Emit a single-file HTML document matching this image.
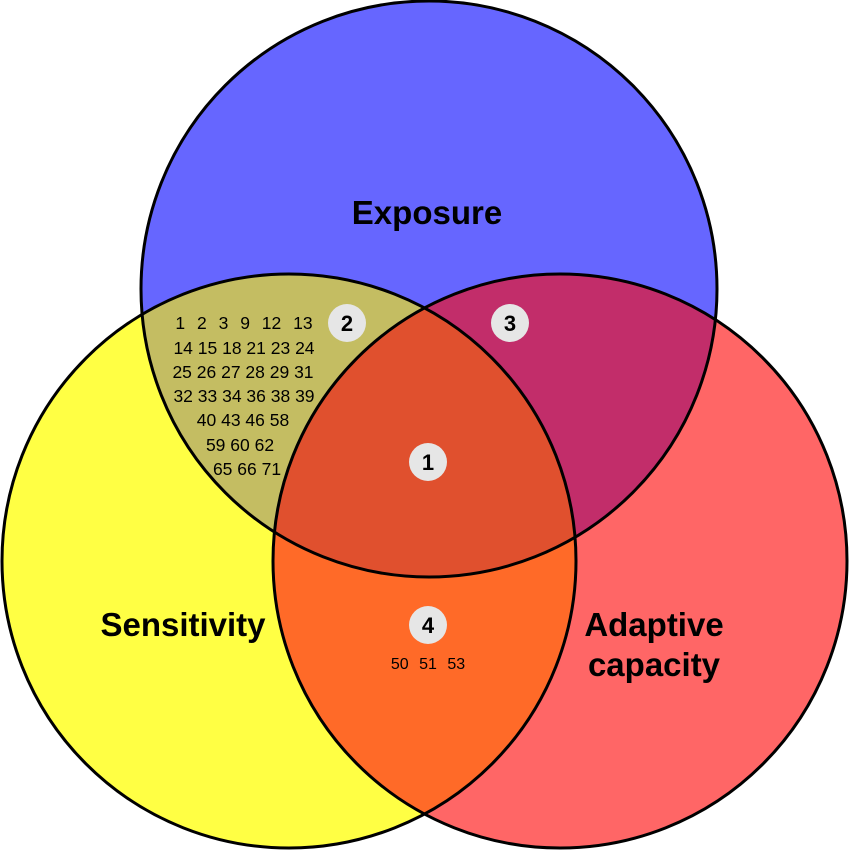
<html><body style="margin:0;background:#fff">
<svg width="849" height="850" xmlns="http://www.w3.org/2000/svg" style="display:block">
<defs>
<clipPath id="cT"><circle cx="429" cy="289" r="288"/></clipPath>
<clipPath id="cL"><circle cx="289" cy="561" r="287"/></clipPath>
<clipPath id="cR"><circle cx="560" cy="561" r="287"/></clipPath>
</defs>
<circle cx="429" cy="289" r="288" fill="#6666ff"/>
<circle cx="289" cy="561" r="287" fill="#ffff44"/>
<circle cx="560" cy="561" r="287" fill="#ff6666"/>
<circle cx="429" cy="289" r="288" fill="#c4bd62" clip-path="url(#cL)"/>
<circle cx="429" cy="289" r="288" fill="#c22d6a" clip-path="url(#cR)"/>
<circle cx="289" cy="561" r="287" fill="#ff6a28" clip-path="url(#cR)"/>
<g clip-path="url(#cT)"><circle cx="289" cy="561" r="287" fill="#e0502e" clip-path="url(#cR)"/></g>
<g fill="none" stroke="#000" stroke-width="3">
<circle cx="429" cy="289" r="288"/>
<circle cx="289" cy="561" r="287"/>
<circle cx="560" cy="561" r="287"/>
</g>
<g font-family="Liberation Sans, sans-serif" font-weight="bold" font-size="33" text-anchor="middle" fill="#000">
<text x="427" y="224">Exposure</text>
<text x="183" y="636">Sensitivity</text>
<text x="654" y="636">Adaptive</text>
<text x="654" y="676">capacity</text>
</g>
<g fill="#e6e6e6">
<circle cx="347" cy="323" r="19"/><circle cx="510" cy="323" r="19"/>
<circle cx="428" cy="462" r="19"/><circle cx="428" cy="625" r="19"/>
</g>
<g font-family="Liberation Sans, sans-serif" font-weight="bold" font-size="22" text-anchor="middle">
<text x="347" y="331">2</text><text x="510" y="331">3</text>
<text x="428" y="470">1</text><text x="428" y="633">4</text>
</g>
<g font-family="Liberation Sans, sans-serif" font-size="17.5" text-anchor="middle" fill="#000">
<text x="244" y="329" word-spacing="7">1 2 3 9 12 13</text>
<text x="244" y="354">14 15 18 21 23 24</text>
<text x="243" y="378">25 26 27 28 29 31</text>
<text x="244" y="402">32 33 34 36 38 39</text>
<text x="243" y="426">40 43 46 58</text>
<text x="240" y="451">59 60 62</text>
<text x="247" y="475">65 66 71</text>
</g>
<text x="428" y="669" font-family="Liberation Sans, sans-serif" font-size="16" text-anchor="middle" word-spacing="6">50 51 53</text>
</svg>
</body></html>
